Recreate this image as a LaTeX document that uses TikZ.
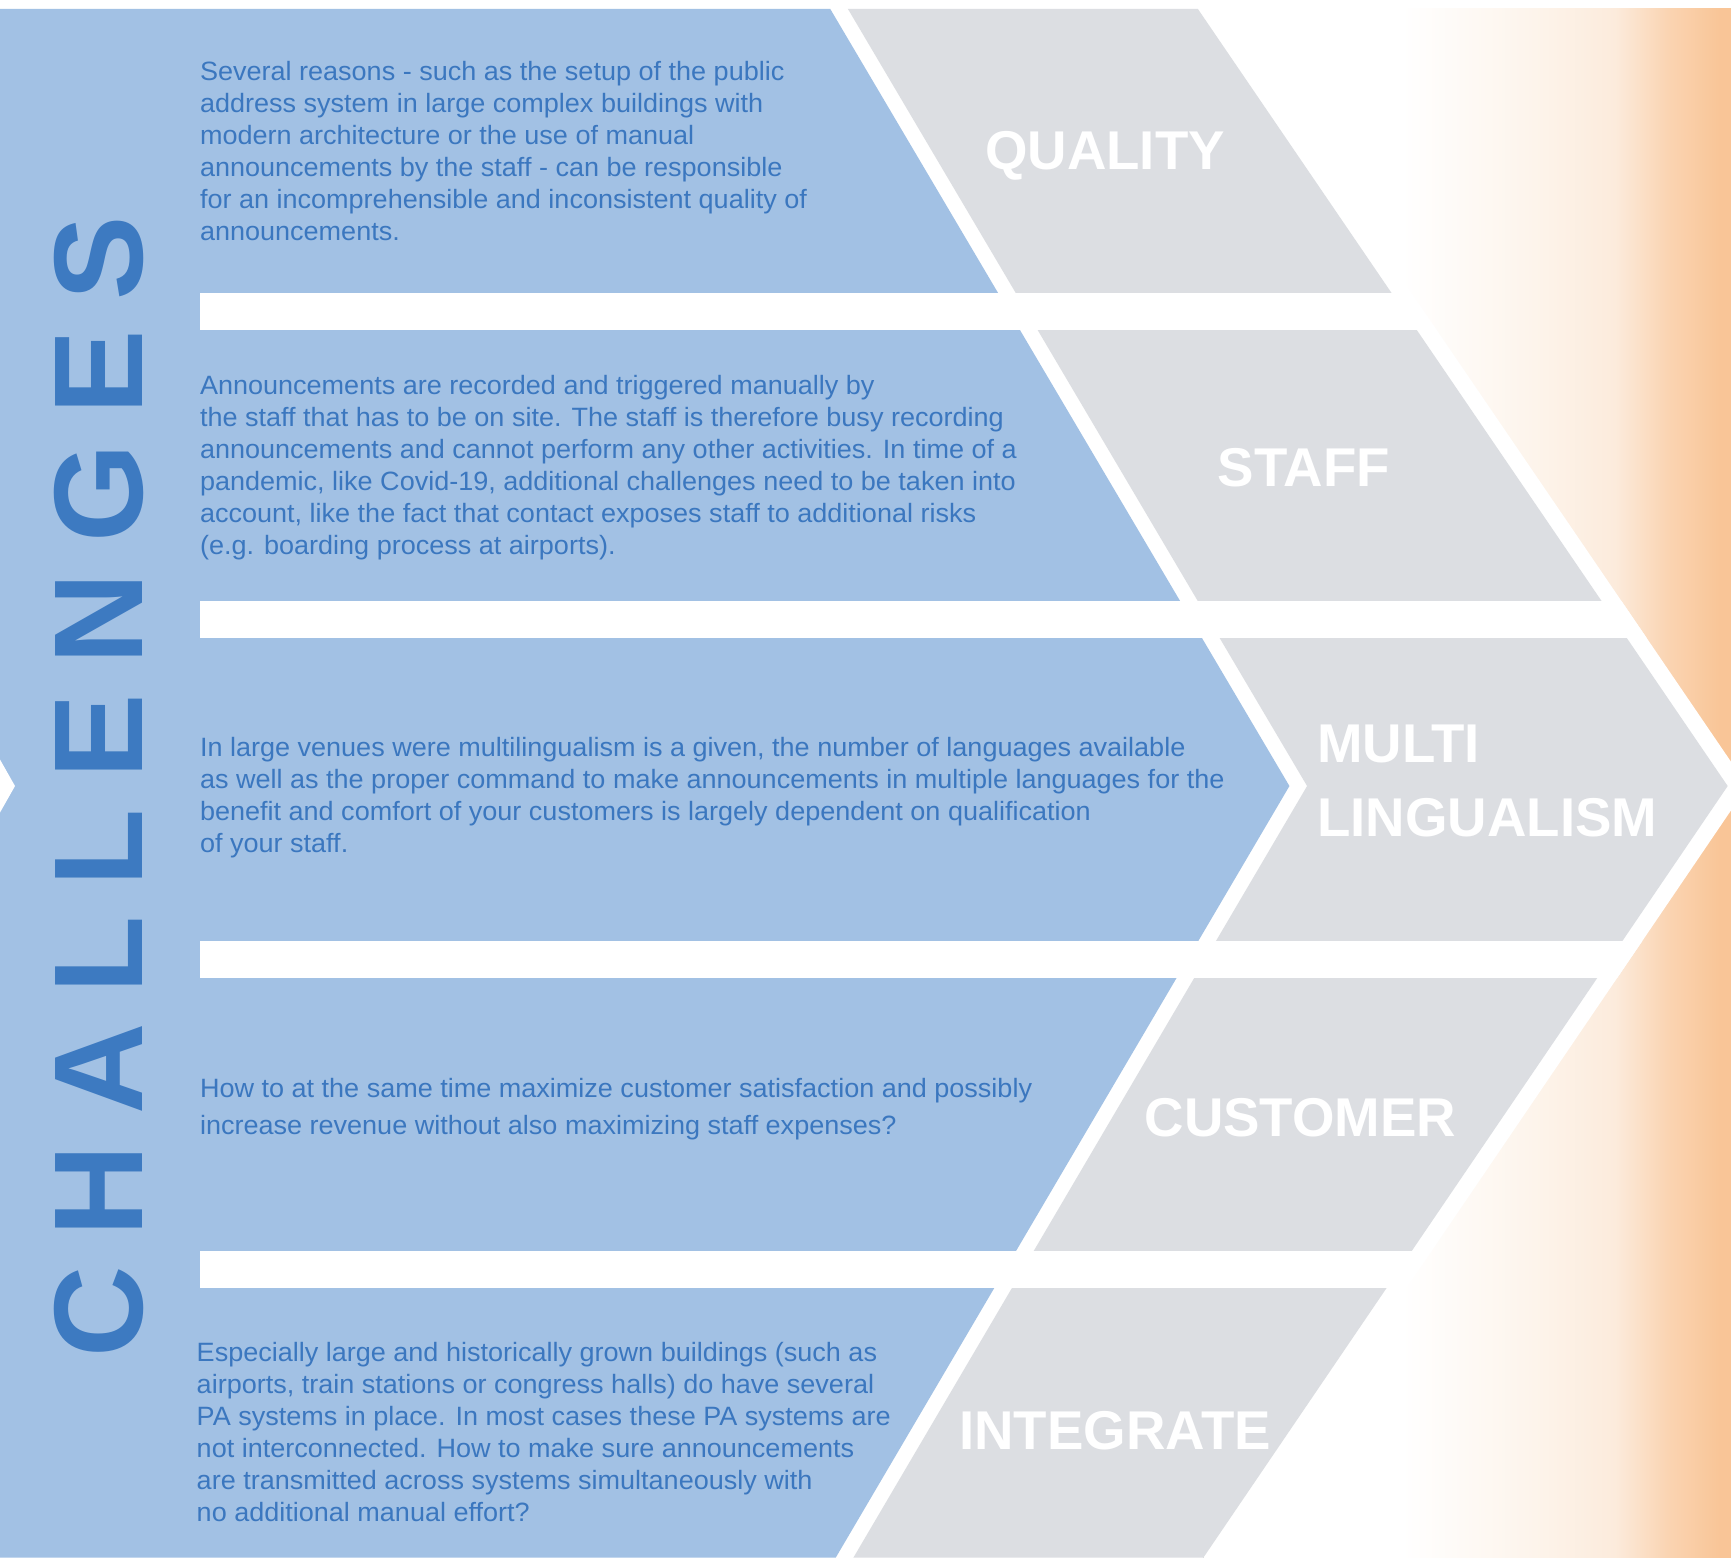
\documentclass[tikz,border=0pt]{standalone}
\usepackage{fontspec}
\setmainfont{Liberation Sans}
\definecolor{bluefill}{HTML}{A2C1E4}
\definecolor{greyfill}{HTML}{DCDEE2}
\definecolor{txtblue}{HTML}{3B77BF}
\definecolor{bigblue}{HTML}{3D7AC1}
\definecolor{orng}{HTML}{F9C597}
\definecolor{orngA}{HTML}{FDF4EB}
\definecolor{orngB}{HTML}{FCEBDC}
\definecolor{orngC}{HTML}{FAD4B2}
\pgfdeclarehorizontalshading{orngshade}{100bp}{color(0bp)=(white); color(43.8bp)=(white); color(56.4bp)=(orngA); color(64bp)=(orngB); color(69bp)=(orngC); color(74bp)=(orng); color(100bp)=(orng)}
\newcommand\trk{\hspace{27.3pt}}
\tikzset{
  body/.style={anchor=north west, inner sep=0pt, align=left, text=txtblue, font=\addfontfeature{FakeStretch=1.02}\fontsize{24}{29}\selectfont},
  title/.style={inner sep=0pt, text=white, font=\fontsize{49.5}{67}\selectfont\bfseries},
}
\begin{document}
\begin{tikzpicture}[x=1pt,y=-1pt]
\useasboundingbox (0,0) rectangle (1568,1411);
\fill[white] (0,0) rectangle (1568,1411);
% gradient
\fill[shading=orngshade] (1090,8) rectangle (1568,1411);
% white cover up to stripe
\fill[white] (0,8) -- (1103,8) -- (1583,712) -- (1108,1411) -- (0,1411) -- cycle;
% grey chevron band
\fill[greyfill] (768,8) -- (1085,8) -- (1565,712) -- (1090,1411) -- (773,1411) -- (1184,712) -- cycle;
% blue chevron
\fill[bluefill] (0,8) -- (752,8) -- (1168,712) -- (757,1411) -- (0,1411) -- cycle;
% gaps
\begin{scope}
\clip (0,8) -- (1103,8) -- (1583,712) -- (1108,1411) -- (0,1411) -- cycle;
\fill[white] (181,265) rectangle (1600,299);
\fill[white] (181,544) rectangle (1600,578);
\fill[white] (181,852) rectangle (1600,886);
\fill[white] (181,1133) rectangle (1600,1167);
\end{scope}
% left notch
\fill[white] (0,688) -- (13.6,712) -- (0,736) -- cycle;
% vertical title
\node[rotate=90, anchor=base, inner sep=0pt, text=bigblue, font=\fontsize{114.5}{120}\selectfont\bfseries] (chal) at (129,712.5) {C\trk H\trk A\trk L\trk L\trk E\trk N\trk G\trk E\trk S};
% body texts
\node[body] (t1) at (181,55) {Several reasons - such as the setup of the public\\address system in large complex buildings with\\modern architecture or the use of manual\\announcements by the staff - can be responsible\\for an incomprehensible and inconsistent quality of\\announcements.};
\node[body] (t2) at (181,340) {Announcements are recorded and triggered manually by\\the staff that has to be on site. The staff is therefore busy recording\\announcements and cannot perform any other activities. In time of a\\pandemic, like Covid-19, additional challenges need to be taken into\\account, like the fact that contact exposes staff to additional risks\\(e.g. boarding process at airports).};
\node[body] (t3) at (181,668) {In large venues were multilingualism is a given, the number of languages available\\as well as the proper command to make announcements in multiple languages for the\\benefit and comfort of your customers is largely dependent on qualification\\of your staff.};
\node[body, font=\addfontfeature{FakeStretch=1.02}\fontsize{24}{33}\selectfont] (t4) at (181,977) {How to at the same time maximize customer satisfaction and possibly\\increase revenue without also maximizing staff expenses?};
\node[body] (t5) at (178,1216) {Especially large and historically grown buildings (such as\\airports, train stations or congress halls) do have several\\PA systems in place. In most cases these PA systems are\\not interconnected. How to make sure announcements\\are transmitted across systems simultaneously with\\no additional manual effort?};
% titles
\node[title] (q) at (1001,141) {QUALITY};
\node[title] (s) at (1181,424) {STAFF};
\node[title, anchor=west, align=left] (m) at (1193,707) {MULTI\\LINGUALISM};
\node[title] (c) at (1178,1012) {CUSTOMER};
\node[title] (i) at (1010,1296) {INTEGRATE};
\end{tikzpicture}
\end{document}
